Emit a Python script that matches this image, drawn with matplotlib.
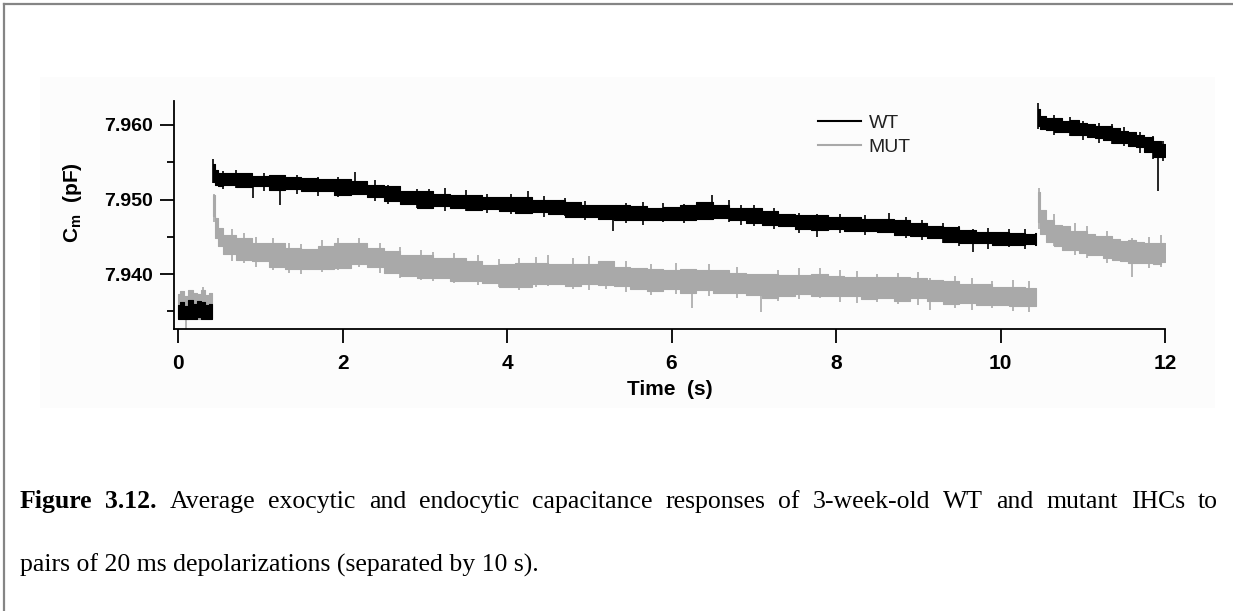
import numpy as np
import matplotlib
matplotlib.use("Agg")
import matplotlib.pyplot as plt
from matplotlib.lines import Line2D
from matplotlib.patches import Rectangle

plt.rcParams["mathtext.fontset"] = "custom"
plt.rcParams["mathtext.bf"] = "Liberation Sans:bold"
plt.rcParams["mathtext.rm"] = "Liberation Sans"

# ---------------- data (pF vs s) ----------------
# main-segment sampling grid (between the two depolarizations)
grid_b = list(np.round(np.arange(0.6, 10.41, 0.2), 2))

# segment A: baseline before first pulse
t_a = [0.0, 0.05, 0.10, 0.15, 0.20, 0.25, 0.30, 0.35, 0.41]
wt_mid_a = [7.9349, 7.9351, 7.9348, 7.9352, 7.9350, 7.9353, 7.9351, 7.9349, 7.9350]
wt_spr_a = [0.0010, 0.0012, 0.0009, 0.0013, 0.0010, 0.0011, 0.0012, 0.0009, 0.0010]
mut_mid_a = [7.9357, 7.9359, 7.9355, 7.9360, 7.9358, 7.9356, 7.9360, 7.9357, 7.9358]
mut_spr_a = [0.0016, 0.0018, 0.0015, 0.0019, 0.0016, 0.0017, 0.0019, 0.0015, 0.0017]

# segment B: after first pulse
t_b = [0.43, 0.46, 0.50] + grid_b + [10.43]
wt_mid_b = [7.9535, 7.9530, 7.9527,
            7.9527, 7.9526, 7.9525, 7.9523, 7.9522, 7.9520, 7.9519, 7.9517, 7.9516, 7.9512,
            7.9508, 7.9503, 7.9500, 7.9499, 7.9497, 7.9496, 7.9495, 7.9494, 7.9493, 7.9491,
            7.9490, 7.9487, 7.9485, 7.9483, 7.9482, 7.9482, 7.9481, 7.9481, 7.9483, 7.9485,
            7.9484, 7.9480, 7.9478, 7.9475, 7.9472, 7.9470, 7.9469, 7.9468, 7.9467, 7.9466,
            7.9465, 7.9463, 7.9460, 7.9457, 7.9453, 7.9450, 7.9449, 7.9448, 7.9447, 7.9447,
            7.9447]
wt_spr_b = [0.0012, 0.0010, 0.0009,
            0.0008, 0.0009, 0.0007, 0.0010, 0.0008, 0.0009, 0.0008, 0.0011, 0.0009, 0.0008,
            0.0010, 0.0009, 0.0011, 0.0008, 0.0009, 0.0010, 0.0008, 0.0009, 0.0011, 0.0008,
            0.0009, 0.0010, 0.0008, 0.0009, 0.0010, 0.0009, 0.0008, 0.0009, 0.0010, 0.0011,
            0.0009, 0.0008, 0.0010, 0.0009, 0.0008, 0.0009, 0.0010, 0.0008, 0.0009, 0.0008,
            0.0009, 0.0010, 0.0009, 0.0008, 0.0010, 0.0009, 0.0008, 0.0009, 0.0008, 0.0007,
            0.0008]
mut_mid_b = [7.9492, 7.9462, 7.9450,
             7.9440, 7.9434, 7.9429, 7.9425, 7.9421, 7.9420, 7.9422, 7.9425, 7.9427, 7.9422,
             7.9416, 7.9412, 7.9410, 7.9408, 7.9406, 7.9404, 7.9400, 7.9398, 7.9399, 7.9401,
             7.9400, 7.9399, 7.9400, 7.9401, 7.9397, 7.9394, 7.9392, 7.9393, 7.9391, 7.9392,
             7.9390, 7.9388, 7.9386, 7.9384, 7.9385, 7.9386, 7.9385, 7.9384, 7.9383, 7.9381,
             7.9382, 7.9380, 7.9381, 7.9378, 7.9375, 7.9374, 7.9372, 7.9371, 7.9370, 7.9369,
             7.9369]
mut_spr_b = [0.0014, 0.0013, 0.0012,
             0.0013, 0.0015, 0.0012, 0.0016, 0.0014, 0.0013, 0.0015, 0.0017, 0.0014, 0.0013,
             0.0015, 0.0014, 0.0016, 0.0013, 0.0015, 0.0014, 0.0012, 0.0015, 0.0016, 0.0014,
             0.0013, 0.0015, 0.0014, 0.0016, 0.0013, 0.0014, 0.0015, 0.0013, 0.0016, 0.0014,
             0.0015, 0.0013, 0.0014, 0.0016, 0.0014, 0.0013, 0.0015, 0.0014, 0.0013, 0.0015,
             0.0014, 0.0016, 0.0013, 0.0014, 0.0015, 0.0013, 0.0014, 0.0012, 0.0013, 0.0012,
             0.0012]

# segment C: after second pulse
t_c = [10.46, 10.5, 10.6, 10.7, 10.8, 10.9, 11.0, 11.1, 11.2, 11.3, 11.4, 11.5,
       11.6, 11.7, 11.8, 11.9, 12.0]
wt_mid_c = [7.9610, 7.9603, 7.9601, 7.9600, 7.9598, 7.9597, 7.9595, 7.9593, 7.9590,
            7.9589, 7.9586, 7.9584, 7.9581, 7.9578, 7.9574, 7.9568, 7.9566]
wt_spr_c = [0.0012, 0.0009, 0.0008, 0.0009, 0.0008, 0.0010, 0.0008, 0.0009, 0.0008,
            0.0009, 0.0010, 0.0008, 0.0009, 0.0008, 0.0010, 0.0011, 0.0009]
mut_mid_c = [7.9490, 7.9470, 7.9458, 7.9452, 7.9448, 7.9445, 7.9443, 7.9440, 7.9438,
             7.9436, 7.9433, 7.9431, 7.9430, 7.9429, 7.9428, 7.9428, 7.9429]
mut_spr_c = [0.0020, 0.0016, 0.0015, 0.0014, 0.0016, 0.0013, 0.0015, 0.0014, 0.0013,
             0.0015, 0.0014, 0.0013, 0.0015, 0.0014, 0.0013, 0.0014, 0.0013]

# noise spikes: time, low, high
wt_spk_t = [0.43, 0.55, 0.70, 0.91, 1.05, 1.24, 1.45, 1.70, 1.95, 2.15, 2.40, 2.55,
            2.90, 3.05, 3.25, 3.50, 3.75, 4.05, 4.26, 4.45, 4.70, 4.95, 5.29, 5.45,
            5.65, 5.90, 6.15, 6.49, 6.70, 6.85, 7.00, 7.25, 7.55, 7.77, 8.05, 8.35,
            8.64, 8.85, 9.05, 9.30, 9.50, 9.67, 9.85, 10.10, 10.30,
            10.46, 10.65, 10.85, 11.00, 11.20, 11.35, 11.50, 11.70, 11.85, 11.92, 11.98]
wt_spk_lo = [7.9522, 7.9514, 7.9516, 7.9502, 7.9512, 7.9493, 7.9508, 7.9505, 7.9503,
             7.9510, 7.9498, 7.9494, 7.9488, 7.9487, 7.9485, 7.9484, 7.9482, 7.9480,
             7.9484, 7.9477, 7.9478, 7.9472, 7.9458, 7.9468, 7.9466, 7.9470, 7.9468,
             7.9474, 7.9470, 7.9466, 7.9464, 7.9460, 7.9455, 7.9450, 7.9455, 7.9452,
             7.9455, 7.9448, 7.9445, 7.9442, 7.9438, 7.9430, 7.9434, 7.9436, 7.9433,
             7.9595, 7.9587, 7.9585, 7.9580, 7.9576, 7.9574, 7.9572, 7.9563, 7.9555,
             7.9512, 7.9552]
wt_spk_hi = [7.9555, 7.9538, 7.9540, 7.9528, 7.9536, 7.9522, 7.9533, 7.9530, 7.9530,
             7.9537, 7.9526, 7.9520, 7.9514, 7.9514, 7.9515, 7.9513, 7.9508, 7.9507,
             7.9511, 7.9505, 7.9502, 7.9498, 7.9490, 7.9495, 7.9497, 7.9495, 7.9494,
             7.9506, 7.9500, 7.9492, 7.9492, 7.9488, 7.9482, 7.9480, 7.9481, 7.9479,
             7.9482, 7.9477, 7.9473, 7.9468, 7.9465, 7.9460, 7.9462, 7.9460, 7.9460,
             7.9630, 7.9614, 7.9611, 7.9605, 7.9603, 7.9601, 7.9597, 7.9590, 7.9585,
             7.9575, 7.9578]
mut_spk_t = [0.10, 0.30, 0.44, 0.65, 0.80, 0.95, 1.15, 1.35, 1.50, 1.75, 1.95, 2.20,
             2.45, 2.70, 2.95, 3.10, 3.35, 3.65, 3.90, 4.15, 4.35, 4.50, 4.80, 5.00,
             5.20, 5.45, 5.75, 6.05, 6.25, 6.45, 6.80, 7.09, 7.30, 7.55, 7.80, 8.05,
             8.25, 8.50, 8.75, 9.00, 9.14, 9.45, 9.65, 9.90, 10.15, 10.35,
             10.47, 10.65, 10.90, 11.05, 11.30, 11.60, 11.80, 11.95]
mut_spk_lo = [7.9325, 7.9345, 7.9470, 7.9418, 7.9415, 7.9410, 7.9405, 7.9402, 7.9400,
              7.9403, 7.9405, 7.9410, 7.9402, 7.9395, 7.9392, 7.9390, 7.9388, 7.9385,
              7.9382, 7.9378, 7.9382, 7.9384, 7.9380, 7.9378, 7.9380, 7.9376, 7.9372,
              7.9373, 7.9354, 7.9370, 7.9368, 7.9349, 7.9364, 7.9366, 7.9368, 7.9363,
              7.9361, 7.9362, 7.9360, 7.9359, 7.9352, 7.9355, 7.9352, 7.9355, 7.9350,
              7.9349,
              7.9460, 7.9438, 7.9425, 7.9422, 7.9415, 7.9396, 7.9408, 7.9410]
mut_spk_hi = [7.9360, 7.9382, 7.9507, 7.9460, 7.9455, 7.9450, 7.9448, 7.9442, 7.9440,
              7.9446, 7.9449, 7.9448, 7.9442, 7.9436, 7.9432, 7.9430, 7.9428, 7.9426,
              7.9420, 7.9421, 7.9423, 7.9425, 7.9422, 7.9424, 7.9418, 7.9418, 7.9414,
              7.9415, 7.9400, 7.9413, 7.9410, 7.9395, 7.9406, 7.9408, 7.9408, 7.9405,
              7.9404, 7.9400, 7.9402, 7.9403, 7.9395, 7.9397, 7.9395, 7.9390, 7.9392,
              7.9390,
              7.9516, 7.9480, 7.9468, 7.9464, 7.9458, 7.9448, 7.9450, 7.9452]

series_labels = ["WT", "MUT"]
wt_color = "#000000"
mut_color = "#a9a9a9"

x_ticks = [0, 2, 4, 6, 8, 10, 12]
y_major = [7.940, 7.950, 7.960]
y_minor = [7.935, 7.945, 7.955]
y_ticklabels = ["7.940", "7.950", "7.960"]

caption_line1 = ["Figure", "3.12.", "Average", "exocytic", "and", "endocytic", "capacitance",
                 "responses", "of", "3-week-old", "WT", "and", "mutant", "IHCs", "to"]
caption_bold_words = 2
caption_line2 = "pairs of 20 ms depolarizations (separated by 10 s)."

# ---------------- figure ----------------
W, H = 1233, 611
fig = plt.figure(figsize=(W / 100, H / 100), dpi=100)
fig.patch.set_facecolor("white")

# faint background of embedded picture
fig.patches.append(Rectangle((40 / W, 1 - 408 / H), (1215 - 40) / W, (408 - 77) / H,
                             transform=fig.transFigure, facecolor="#fcfcfc",
                             edgecolor="none", zorder=-5))
# outer frame (left + top)
fig.add_artist(Line2D([4 / W, 4 / W], [0, 1 - 3.5 / H], transform=fig.transFigure,
                      color="#858585", lw=1.6))
fig.add_artist(Line2D([4 / W, 1], [1 - 3.5 / H, 1 - 3.5 / H], transform=fig.transFigure,
                      color="#858585", lw=1.6))

ax = fig.add_axes([174 / W, 1 - 329 / H, (1165 - 174) / W, (329 - 101) / H])
ax.set_facecolor("none")
ax.set_zorder(2)


def band(t, mid, spr, color, z):
    t = np.asarray(t, float)
    mid = np.asarray(mid, float)
    spr = np.asarray(spr, float)
    ax.fill_between(t, mid - spr, mid + spr, step="mid", facecolor=color,
                    edgecolor=color, lw=0.8, zorder=z)


for (t, m, s) in [(t_a, mut_mid_a, mut_spr_a), (t_b, mut_mid_b, mut_spr_b),
                  (t_c, mut_mid_c, mut_spr_c)]:
    band(t, m, s, mut_color, 2)
ax.vlines(mut_spk_t, mut_spk_lo, mut_spk_hi, color=mut_color, lw=1.2, zorder=2)

for (t, m, s) in [(t_a, wt_mid_a, wt_spr_a), (t_b, wt_mid_b, wt_spr_b),
                  (t_c, wt_mid_c, wt_spr_c)]:
    band(t, m, s, wt_color, 3)
ax.vlines(wt_spk_t, wt_spk_lo, wt_spk_hi, color=wt_color, lw=1.2, zorder=3)

ax.set_xlim(-0.05, 12.0)
ax.set_ylim(7.93262, 7.96322)

for side in ["top", "right"]:
    ax.spines[side].set_visible(False)
for side in ["left", "bottom"]:
    ax.spines[side].set_linewidth(1.3)
    ax.spines[side].set_color("black")

ax.set_xticks(x_ticks)
ax.set_xticklabels([str(v) for v in x_ticks], fontfamily="Liberation Sans",
                   fontweight="bold", fontsize=15)
ax.set_yticks(y_major)
ax.set_yticks(y_minor, minor=True)
ax.set_yticklabels(y_ticklabels, fontfamily="Liberation Sans", fontweight="bold",
                   fontsize=14)
ax.tick_params(axis="both", which="major", direction="out", length=10, width=1.3)
ax.tick_params(axis="y", which="minor", direction="out", length=5, width=1.3)
ax.tick_params(axis="y", which="major", pad=5)
ax.tick_params(axis="x", which="major", pad=8)

ax.set_xlabel("Time  (s)", fontfamily="Liberation Sans", fontweight="bold",
              fontsize=15, labelpad=5)
fig.text(72 / W, 1 - 203 / H, r"C$_\mathbf{m}$  (pF)", rotation=90, ha="center",
         va="center", fontfamily="Liberation Sans", fontweight="bold", fontsize=15)

handles = [Line2D([], [], color=wt_color, lw=1.5),
           Line2D([], [], color=mut_color, lw=1.5)]
leg = ax.legend(handles, series_labels, loc="upper left",
                bbox_to_anchor=((818 - 174) / 991, (329 - 114) / 228),
                frameon=False, handlelength=2.2, handletextpad=0.4,
                labelspacing=0.35, borderpad=0, borderaxespad=0,
                prop={"family": "Liberation Sans", "size": 14})
for txt in leg.get_texts():
    txt.set_color("#222222")

# ---------------- caption ----------------
fig.canvas.draw()
renderer = fig.canvas.get_renderer()
cap_size = 18.5
y1 = 1 - 508 / H
objs = []
widths = []
for i, w in enumerate(caption_line1):
    t = fig.text(0, y1, w, fontfamily="Liberation Serif", fontsize=cap_size,
                 fontweight="bold" if i < caption_bold_words else "normal",
                 va="baseline", ha="left")
    objs.append(t)
    widths.append(t.get_window_extent(renderer).width)
x_start, x_end = 20.0, 1218.0
gap = (x_end - x_start - sum(widths)) / (len(widths) - 1)
x = x_start
for t, wdt in zip(objs, widths):
    t.set_x(x / W)
    x += wdt + gap

fig.text(20 / W, 1 - 572 / H, caption_line2, fontfamily="Liberation Serif",
         fontsize=cap_size, va="baseline", ha="left")

fig.savefig("out.png", dpi=100)
